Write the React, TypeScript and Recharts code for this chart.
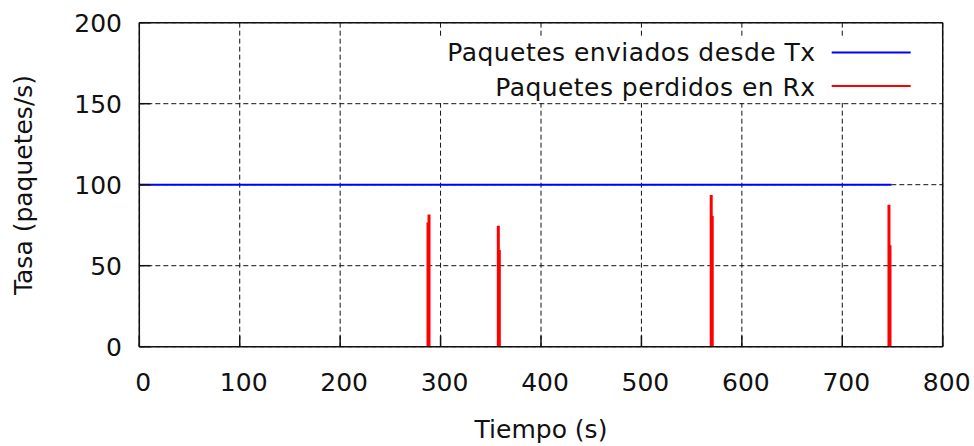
import { LineChart, Line, XAxis, YAxis, CartesianGrid, Legend, Label } from "recharts";

const xTicks = [0, 100, 200, 300, 400, 500, 600, 700, 800];
const yTicks = [0, 50, 100, 150, 200];

const seriesNames = ["Paquetes enviados desde Tx", "Paquetes perdidos en Rx"];
const seriesColors = ["#0000ff", "#ff0000"];

// Tx rate: flat at 100 until the run ends
const txTime = [0, 749];
const txRate = [100, 100];

// Rx losses: four short bursts (per-second steps), null splits them
const rxTime = [287, 287, 288, 289, 320, 357, 357, 358, 359, 460, 569, 569, 570, 571, 660, 746, 746, 747, 748];
const rxRate = [0, 76, 81, 0, null, 0, 74, 59, 0, null, 0, 93, 80, 0, null, 0, 87, 62, 0];

const txData = txTime.map((t, i) => ({ t, rate: txRate[i] }));
const rxData = rxTime.map((t, i) => ({ t, rate: rxRate[i] }));

const FONT = "'DejaVu Sans', sans-serif";
const INK = "#111";

function KeyBox() {
  const rows = [
    { y: 23.3, ly: 14.5 },
    { y: 57.8, ly: 48 },
  ];
  return (
    <svg width={541} height={65} style={{ display: "block", background: "#fff" }}>
      {seriesNames.map((name, i) => (
        <g key={name}>
          <text
            x={414.5}
            y={rows[i].y}
            textAnchor="end"
            fontFamily={FONT}
            fontSize={25}
            letterSpacing={0.45}
            fill={INK}
          >
            {name}
          </text>
          <line
            x1={430.7}
            x2={509.7}
            y1={rows[i].ly}
            y2={rows[i].ly}
            stroke={seriesColors[i]}
            strokeWidth={2}
          />
        </g>
      ))}
    </svg>
  );
}

function XTick(props: any) {
  const { x, y, payload } = props;
  return (
    <text x={x + 4} y={y} dy="0.71em" textAnchor="middle" fontFamily={FONT} fontSize={25} fill={INK}>
      {payload.value}
    </text>
  );
}

export default function App() {
  const axisLine = { stroke: INK, strokeWidth: 1.5 };
  const tickStyle = { fill: INK, fontSize: 25, fontFamily: FONT };

  return (
    <div style={{ position: "absolute", left: 0, top: 0, fontFamily: FONT }}>
      <LineChart width={974} height={446} margin={{ top: 0, right: 0, bottom: 0, left: 0 }}>
        <CartesianGrid stroke={INK} strokeDasharray="5 3" strokeWidth={1} />
        <Line
          data={txData}
          dataKey="rate"
          type="stepAfter"
          name={seriesNames[0]}
          stroke={seriesColors[0]}
          strokeWidth={2}
          dot={false}
          activeDot={false}
          isAnimationActive={false}
        />
        <Line
          data={rxData}
          dataKey="rate"
          type="stepAfter"
          name={seriesNames[1]}
          stroke={seriesColors[1]}
          strokeWidth={2}
          dot={false}
          activeDot={false}
          connectNulls={false}
          isAnimationActive={false}
        />
        <XAxis
          dataKey="t"
          type="number"
          domain={[0, 800]}
          ticks={xTicks}
          interval={0}
          height={99.3}
          tickSize={-11}
          tickMargin={37.3}
          axisLine={axisLine}
          tickLine={axisLine}
          tick={<XTick />}
        >
          <Label value="Tiempo (s)" position="insideBottom" offset={8} fill={INK} fontSize={25} fontFamily={FONT} />
        </XAxis>
        <XAxis
          xAxisId="top"
          orientation="top"
          type="number"
          domain={[0, 800]}
          ticks={xTicks}
          interval={0}
          height={22.7}
          tickSize={-11}
          axisLine={axisLine}
          tickLine={axisLine}
          tick={false}
        />
        <YAxis
          type="number"
          domain={[0, 200]}
          ticks={yTicks}
          interval={0}
          width={139.3}
          tickSize={-11}
          tickMargin={28.3}
          axisLine={axisLine}
          tickLine={axisLine}
          tick={tickStyle}
        >
          <Label
            content={() => (
              <text
                x={32}
                y={185}
                transform="rotate(-90, 32, 185)"
                textAnchor="middle"
                fontFamily={FONT}
                fontSize={25}
                fill={INK}
              >
                Tasa (paquetes/s)
              </text>
            )}
          />
        </YAxis>
        <YAxis
          yAxisId="right"
          orientation="right"
          type="number"
          domain={[0, 200]}
          ticks={yTicks}
          interval={0}
          width={31.3}
          tickSize={-11}
          axisLine={axisLine}
          tickLine={axisLine}
          tick={false}
        />
        <Legend
          layout="horizontal"
          align="center"
          verticalAlign="middle"
          width={541}
          height={65}
          wrapperStyle={{ left: 401, top: 38, width: 541, height: 65 }}
          content={() => <KeyBox />}
        />
      </LineChart>
    </div>
  );
}
